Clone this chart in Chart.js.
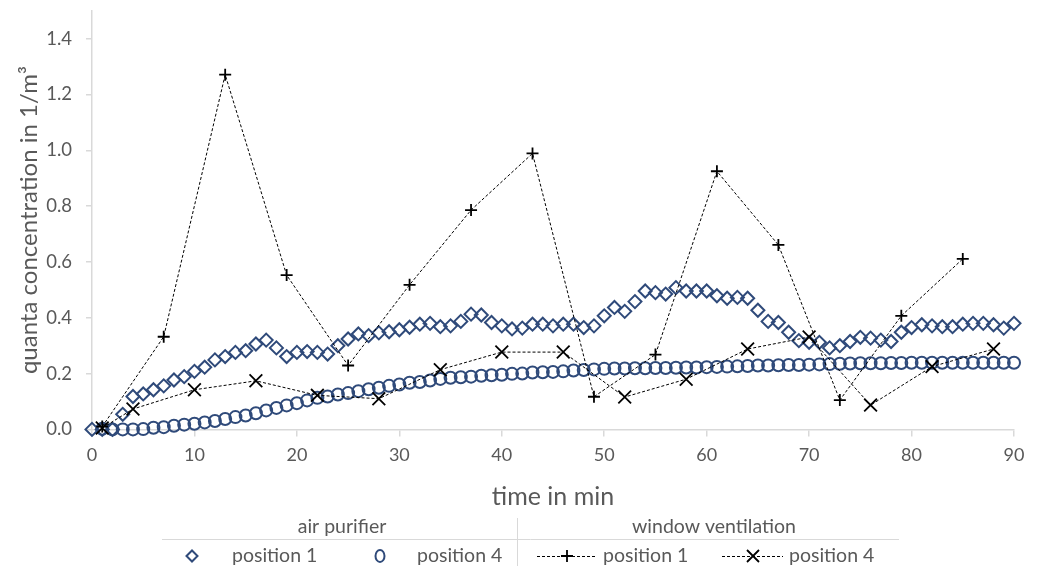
<!DOCTYPE html>
<html lang="en">
<head>
<meta charset="UTF-8" />
<title>Quanta concentration</title>
<script src="https://cdn.jsdelivr.net/npm/chart.js"></script>
<style>
  html, body { margin: 0; padding: 0; background: #fff; }
  #chart { display: block; }
</style>
</head>
<body>
<canvas id="chart" width="1037" height="566"></canvas>
<script>
  // air purifier: one reading per minute
  const purifierTime1 = [0,1,2,3,4,5,6,7,8,9,10,11,12,13,14,15,16,17,18,19,20,21,22,23,24,25,26,27,28,29,30,
    31,32,33,34,35,36,37,38,39,40,41,42,43,44,45,46,47,48,49,50,51,52,53,54,55,56,57,58,59,60,
    61,62,63,64,65,66,67,68,69,70,71,72,73,74,75,76,77,78,79,80,81,82,83,84,85,86,87,88,89,90];
  const purifierPos1 = [0.0,0.0,0.0,0.054,0.118,0.127,0.142,0.156,0.177,0.189,0.208,0.223,0.249,0.261,0.276,0.282,0.306,0.320,0.292,0.261,
    0.276,0.279,0.276,0.270,0.300,0.324,0.342,0.336,0.346,0.350,0.357,0.366,0.377,0.380,0.368,0.371,0.387,0.413,0.410,0.383,
    0.371,0.360,0.363,0.377,0.377,0.371,0.377,0.377,0.365,0.371,0.407,0.437,0.423,0.458,0.496,0.490,0.485,0.508,0.496,0.496,
    0.496,0.479,0.470,0.473,0.470,0.427,0.387,0.383,0.348,0.318,0.312,0.312,0.292,0.300,0.315,0.330,0.327,0.320,0.315,0.348,
    0.365,0.375,0.371,0.368,0.368,0.377,0.380,0.380,0.375,0.363,0.380];

  const purifierTime4 = [1,2,3,4,5,6,7,8,9,10,11,12,13,14,15,16,17,18,19,20,21,22,23,24,25,26,27,28,29,30,
    31,32,33,34,35,36,37,38,39,40,41,42,43,44,45,46,47,48,49,50,51,52,53,54,55,56,57,58,59,60,
    61,62,63,64,65,66,67,68,69,70,71,72,73,74,75,76,77,78,79,80,81,82,83,84,85,86,87,88,89,90];
  const purifierPos4 = [0.002,0.0,0.0,0.0,0.001,0.006,0.008,0.013,0.017,0.020,0.025,0.030,0.037,0.044,0.050,0.058,0.068,0.077,0.086,0.094,
    0.104,0.113,0.118,0.125,0.130,0.137,0.144,0.149,0.156,0.161,0.167,0.170,0.175,0.181,0.185,0.187,0.189,0.192,0.194,0.196,
    0.199,0.200,0.204,0.205,0.206,0.208,0.211,0.213,0.215,0.217,0.218,0.218,0.219,0.219,0.220,0.220,0.221,0.222,0.222,0.223,
    0.224,0.225,0.226,0.227,0.229,0.229,0.230,0.231,0.231,0.232,0.233,0.234,0.235,0.236,0.237,0.237,0.237,0.238,0.238,0.239,
    0.239,0.239,0.239,0.239,0.239,0.239,0.239,0.239,0.239,0.239];

  // window ventilation: spot readings
  const windowTime1 = [1,7,13,19,25,31,37,43,49,55,61,67,73,79,85];
  const windowPos1 = [0.01,0.332,1.271,0.553,0.229,0.518,0.786,0.989,0.117,0.268,0.925,0.661,0.105,0.407,0.611];
  const windowTime4 = [1,4,10,16,22,28,34,40,46,52,58,64,70,76,82,88];
  const windowPos4 = [0.005,0.073,0.142,0.174,0.122,0.110,0.214,0.277,0.277,0.116,0.180,0.288,0.331,0.087,0.225,0.288];

  const yTicks = [0, 0.2, 0.4, 0.6, 0.8, 1.0, 1.2, 1.4];
  const xTicks = [0, 10, 20, 30, 40, 50, 60, 70, 80, 90];

  const blue = "#2F4A7A";
  const grey = "#595959";
  const axisGrey = "#D9D9D9";
  const font = "Lato";

  function pts(xs, ys) {
    return xs.map((x, i) => ({ x: x, y: ys[i] }));
  }

  // two-group legend under the x axis, like the Excel table legend
  const groupLegend = {
    id: "groupLegend",
    afterDraw(chart) {
      const ctx = chart.ctx;
      ctx.save();
      ctx.fillStyle = grey;
      ctx.font = "19.5px " + font;
      ctx.textBaseline = "middle";
      ctx.textAlign = "center";
      ctx.fillText("air purifier", 342, 527);
      ctx.fillText("window ventilation", 714, 527);

      ctx.strokeStyle = axisGrey;
      ctx.lineWidth = 1;
      ctx.beginPath();
      ctx.moveTo(162, 539.5); ctx.lineTo(899, 539.5);
      ctx.moveTo(517.5, 518); ctx.lineTo(517.5, 566);
      ctx.stroke();

      const y = 556;
      ctx.textAlign = "left";
      ctx.fillText("position 1", 232, y);
      ctx.fillText("position 4", 417, y);
      ctx.fillText("position 1", 603, y);
      ctx.fillText("position 4", 789, y);

      // diamond
      ctx.strokeStyle = blue;
      ctx.lineWidth = 2;
      ctx.beginPath();
      ctx.moveTo(192 - 5.5, y); ctx.lineTo(192, y - 5.5); ctx.lineTo(192 + 5.5, y); ctx.lineTo(192, y + 5.5);
      ctx.closePath();
      ctx.stroke();
      // circle
      ctx.beginPath();
      ctx.ellipse(380, y, 4.5, 6, 0, 0, Math.PI * 2);
      ctx.stroke();

      // dashed lines with markers
      ctx.strokeStyle = "#000";
      ctx.lineWidth = 1;
      ctx.setLineDash([3, 2]);
      ctx.beginPath();
      ctx.moveTo(537, y + 0.5); ctx.lineTo(597, y + 0.5);
      ctx.moveTo(722, y + 0.5); ctx.lineTo(783, y + 0.5);
      ctx.stroke();
      ctx.setLineDash([]);
      ctx.lineWidth = 1.8;
      ctx.beginPath();
      ctx.moveTo(561, y); ctx.lineTo(573, y);
      ctx.moveTo(567, y - 6); ctx.lineTo(567, y + 6);
      ctx.moveTo(747, y - 6); ctx.lineTo(759, y + 6);
      ctx.moveTo(759, y - 6); ctx.lineTo(747, y + 6);
      ctx.stroke();
      ctx.restore();
    }
  };

  const lineStyle = {
    showLine: true,
    borderColor: "#000",
    borderWidth: 1,
    borderDash: [3, 2],
    pointBorderColor: "#000",
    pointBackgroundColor: "rgba(0,0,0,0)",
    pointBorderWidth: 1.8,
    tension: 0,
    clip: false
  };

  new Chart(document.getElementById("chart"), {
    type: "scatter",
    data: {
      datasets: [
        {
          label: "air purifier position 1",
          data: pts(purifierTime1, purifierPos1),
          pointStyle: "rectRot",
          pointRadius: 6.5,
          pointBorderWidth: 2,
          pointBorderColor: blue,
          pointBackgroundColor: "rgba(0,0,0,0)",
          clip: false,
          order: 4
        },
        {
          label: "air purifier position 4",
          data: pts(purifierTime4, purifierPos4),
          pointStyle: "circle",
          pointRadius: 6,
          pointBorderWidth: 2,
          pointBorderColor: blue,
          pointBackgroundColor: "rgba(0,0,0,0)",
          clip: false,
          order: 3
        },
        Object.assign({
          label: "window ventilation position 1",
          data: pts(windowTime1, windowPos1),
          pointStyle: "cross",
          pointRadius: 6,
          order: 2
        }, lineStyle),
        Object.assign({
          label: "window ventilation position 4",
          data: pts(windowTime4, windowPos4),
          pointStyle: "crossRot",
          pointRadius: 9,
          order: 1
        }, lineStyle)
      ]
    },
    options: {
      responsive: false,
      animation: false,
      devicePixelRatio: 1,
      layout: { padding: { left: 15, right: 23, top: 9, bottom: 54 } },
      plugins: {
        legend: { display: false },
        tooltip: { enabled: false }
      },
      scales: {
        x: {
          type: "linear",
          min: 0,
          max: 90,
          afterBuildTicks: (s) => { s.ticks = xTicks.map(v => ({ value: v })); },
          ticks: { color: grey, font: { family: font, size: 18 }, padding: 8, maxRotation: 0 },
          grid: { drawOnChartArea: false, drawTicks: true, tickLength: 7, color: axisGrey, lineWidth: 1.5 },
          border: { display: true, color: axisGrey, width: 1.5 },
          title: { display: true, text: "time in min", color: grey, font: { family: font, size: 25 }, padding: { top: 8, bottom: 0 } }
        },
        y: {
          min: 0,
          max: 1.5,
          afterBuildTicks: (s) => { s.ticks = yTicks.map(v => ({ value: v })); },
          afterFit: (s) => { s.paddingTop = 0; s.width = 77; },
          ticks: { color: grey, font: { family: font, size: 18.5 }, padding: 14, callback: (v) => v.toFixed(1) },
          grid: { drawOnChartArea: false, drawTicks: true, tickLength: 6, color: axisGrey, lineWidth: 1.5 },
          border: { display: true, color: axisGrey, width: 1.5 },
          title: { display: true, text: "quanta concentration in 1/m³", color: grey, font: { family: font, size: 24 }, padding: { top: 0, bottom: 0 } }
        }
      }
    },
    plugins: [groupLegend]
  });
</script>
</body>
</html>
